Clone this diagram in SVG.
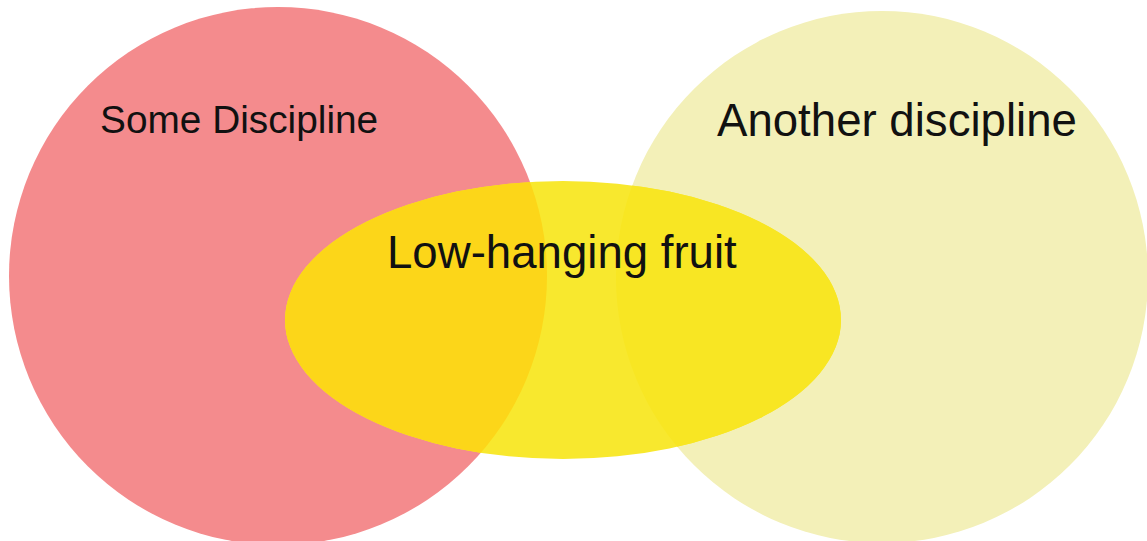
<svg xmlns="http://www.w3.org/2000/svg" width="1147" height="541" viewBox="0 0 1147 541">
  <style>
    .label { font-family: "Liberation Sans", Arial, Helvetica, sans-serif; fill: #111111; }
  </style>
  <defs>
    <clipPath id="clip-some">
      <circle cx="278" cy="276" r="269"/>
    </clipPath>
    <clipPath id="clip-another">
      <circle cx="882" cy="277" r="266"/>
    </clipPath>
  </defs>
  <rect width="1147" height="541" fill="#ffffff"/>

  <g id="some-discipline">
    <circle cx="278" cy="276" r="269" fill="#F48B8D"/>
    <text class="label" x="100" y="133" font-size="38.8">Some Discipline</text>
  </g>

  <g id="another-discipline">
    <circle cx="882" cy="277" r="266" fill="#F3F0B8"/>
    <text class="label" x="717" y="136" font-size="45.6">Another discipline</text>
  </g>

  <g id="low-hanging-fruit">
    <ellipse cx="563" cy="320" rx="278" ry="139" fill="#F8E82E"/>
    <ellipse cx="563" cy="320" rx="278" ry="139" fill="#FCD619" clip-path="url(#clip-some)"/>
    <ellipse cx="563" cy="320" rx="278" ry="139" fill="#F8E623" clip-path="url(#clip-another)"/>
    <text class="label" x="387" y="268" font-size="45.6">Low-hanging fruit</text>
  </g>
</svg>
